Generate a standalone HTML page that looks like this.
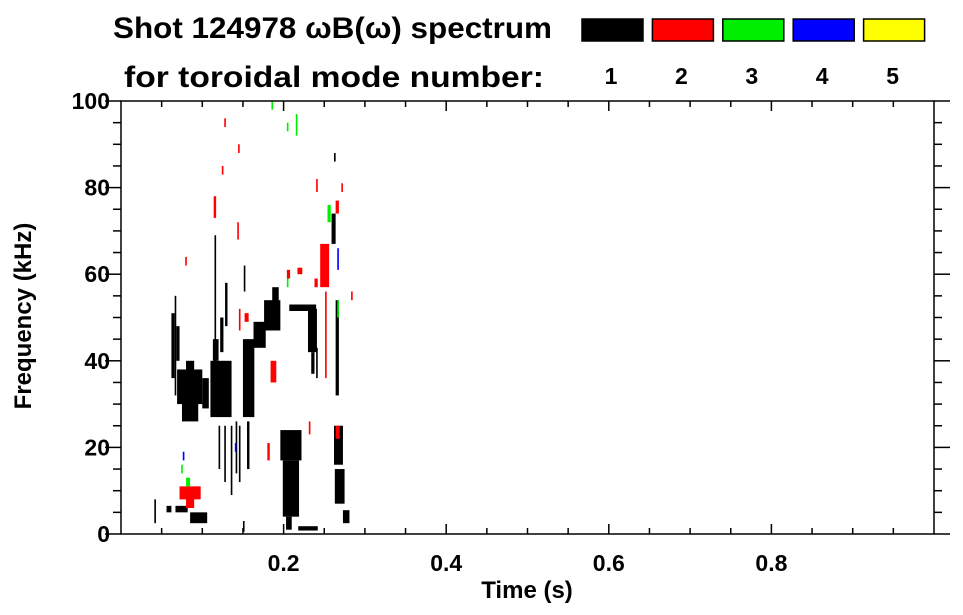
<!DOCTYPE html>
<html><head><meta charset="utf-8"><style>
html,body{margin:0;padding:0;background:#fff;}
svg{display:block;font-family:"Liberation Sans",Arial,sans-serif;font-weight:bold;}
</style></head><body>
<svg id="chart" width="963" height="615" viewBox="0 0 963 615">
<g id="title">
<text x="113" y="38" font-size="30" textLength="439" lengthAdjust="spacingAndGlyphs">Shot 124978 ωB(ω) spectrum</text>
<text x="124" y="87" font-size="30" textLength="420" lengthAdjust="spacingAndGlyphs">for toroidal mode number:</text>
</g>
<g id="legend"></g>
<g id="marks"></g>
<g id="axes"></g>
</svg>
<script>
const modeLabels = ["1","2","3","4","5"];
const modeColors = ["#000000","#ff0000","#00ee00","#0000ff","#ffff00"];
const xTickValues = [0.2,0.4,0.6,0.8];
const xTickLabels = ["0.2","0.4","0.6","0.8"];
const yTickValues = [0,20,40,60,80,100];
const yTickLabels = ["0","20","40","60","80","100"];
// blobs: [tStart, tEnd, fLow, fHigh, modeIndex]
const blobs = [
 [0.062,0.066,36,51,0],[0.066,0.068,32,55,0],[0.068,0.072,40,48,0],[0.069,0.100,30,38,0],
 [0.075,0.095,26,31,0],[0.100,0.108,29,36,0],[0.080,0.090,36,40,0],
 [0.110,0.136,27,40,0],[0.115,0.117,28,69,0],[0.113,0.120,40,45,0],[0.122,0.126,42,50,0],[0.128,0.131,48,58,0],
 [0.127,0.129,12,25,0],[0.120,0.122,15,25,0],[0.135,0.137,9,25,0],[0.145,0.147,12,25,0],[0.141,0.143,14,26,0],
 [0.150,0.164,27,45,0],[0.155,0.158,15,26,0],[0.151,0.153,56,62,0],
 [0.163,0.178,43,49,0],[0.176,0.196,47,54,0],[0.186,0.194,53,57,0],
 [0.207,0.240,51.5,53,0],[0.230,0.241,42,52,0],[0.234,0.238,37,42,0],
 [0.196,0.222,17,24,0],[0.199,0.219,4,17,0],[0.203,0.210,1,4,0],
 [0.262,0.273,16,25,0],[0.263,0.275,7,15,0],[0.273,0.281,2.5,5.5,0],
 [0.264,0.268,32,54,0],[0.259,0.264,67,74,0],[0.262,0.264,86,88,0],
 [0.056,0.062,5,6.5,0],[0.067,0.082,5,6.5,0],[0.085,0.106,2.5,5,0],[0.041,0.043,2.5,8,0],
 [0.150,0.152,0.5,3,0],[0.218,0.242,0.8,1.8,0],[0.240,0.242,36,43,0],
 [0.245,0.256,57,67,1],[0.251,0.253,36,56,1],[0.264,0.268,74,77,1],[0.114,0.117,73,78,1],
 [0.072,0.098,8,11,1],[0.080,0.090,6,9,1],[0.184,0.191,35,40,1],[0.264,0.269,22,25,1],
 [0.145,0.147,47,52,1],[0.152,0.157,49,51,1],[0.127,0.129,94,96,1],[0.144,0.146,88,90,1],
 [0.124,0.126,83,85,1],[0.240,0.242,79,82,1],[0.271,0.273,79,81,1],[0.079,0.081,62,64,1],
 [0.143,0.145,68,72,1],[0.204,0.208,59,61,1],[0.283,0.285,54,56,1],[0.231,0.233,23,26,1],
 [0.217,0.223,60,61.5,1],[0.238,0.242,57,59,1],[0.180,0.183,17,21,1],
 [0.185,0.187,98,100,2],[0.204,0.206,93,95,2],[0.215,0.217,92,97,2],[0.254,0.258,72,76,2],
 [0.266,0.268,50,54,2],[0.204,0.206,57,59,2],[0.074,0.076,14,16,2],[0.080,0.085,11,13,2],
 [0.266,0.268,61,66,3],[0.076,0.078,17,19,3],[0.140,0.142,19,21,3]
];
const X0=121, X1=934, Y0=534, Y1=101;
const T_MIN=0, T_MAX=1, F_MIN=0, F_MAX=100;
function xs(t){return X0+(t-T_MIN)/(T_MAX-T_MIN)*(X1-X0);}
function ys(f){return Y0-(f-F_MIN)/(F_MAX-F_MIN)*(Y0-Y1);}
const NS="http://www.w3.org/2000/svg";
function mk(tag,attrs,parent){const e=document.createElementNS(NS,tag);for(const k in attrs)e.setAttribute(k,attrs[k]);parent.appendChild(e);return e;}

const marks=document.getElementById('marks');
blobs.forEach(function(b,i){
  const x=xs(b[0]), w=Math.max(1.5,xs(b[1])-xs(b[0]));
  const y=ys(b[3]), h=Math.max(1.5,ys(b[2])-ys(b[3]));
  const r=mk('rect',{x:x,y:y,width:w,height:h,fill:modeColors[b[4]]},marks);
  
  
});

const legend=document.getElementById('legend');
modeLabels.forEach(function(lab,i){
  const bx=582+i*70.4;
  const r=mk('rect',{x:bx,y:19,width:61,height:22,fill:modeColors[i],stroke:'#000','stroke-width':1.5},legend);
  
  
  const t=mk('text',{x:bx+29,y:84,'font-size':23,'text-anchor':'middle'},legend);
  t.textContent=lab;
  
  
});

const axes=document.getElementById('axes');
const frame=mk('rect',{x:X0,y:Y1,width:X1-X0,height:Y0-Y1,fill:'none',stroke:'#000','stroke-width':1.5},axes);


for(let f=0;f<=100;f+=5){
  const major=(f%20===0); const L=major?16:8; const y=ys(f);
  const a=mk('line',{x1:X0-L,y1:y,x2:X0,y2:y,stroke:'#000','stroke-width':1.5},axes);
  
  
  const b=mk('line',{x1:X1,y1:y,x2:X1+L,y2:y,stroke:'#000','stroke-width':1.5},axes);
  
  
}
for(let k=1;k<20;k++){
  const t=k*0.05; const major=(k%4===0); const L=major?10:6; const x=xs(t);
  const a=mk('line',{x1:x,y1:Y0,x2:x,y2:Y0-L,stroke:'#000','stroke-width':1.5},axes);
  
  
  const b=mk('line',{x1:x,y1:Y1,x2:x,y2:Y1+L,stroke:'#000','stroke-width':1.5},axes);
  
  
}
xTickValues.forEach(function(v,i){
  const t=mk('text',{x:xs(v),y:571,'font-size':23,'text-anchor':'middle'},axes);
  t.textContent=xTickLabels[i];
  
  
});
yTickValues.forEach(function(v,i){
  const t=mk('text',{x:110,y:ys(v)+8,'font-size':23,'text-anchor':'end'},axes);
  t.textContent=yTickLabels[i];
  
  
});
const xt=mk('text',{x:527,y:598,'font-size':24,'text-anchor':'middle'},axes);
xt.textContent='Time (s)';


const yt=mk('text',{x:0,y:0,'font-size':24,'text-anchor':'middle',transform:'translate(31,316) rotate(-90)'},axes);
yt.textContent='Frequency (kHz)';


</script>
</body></html>
